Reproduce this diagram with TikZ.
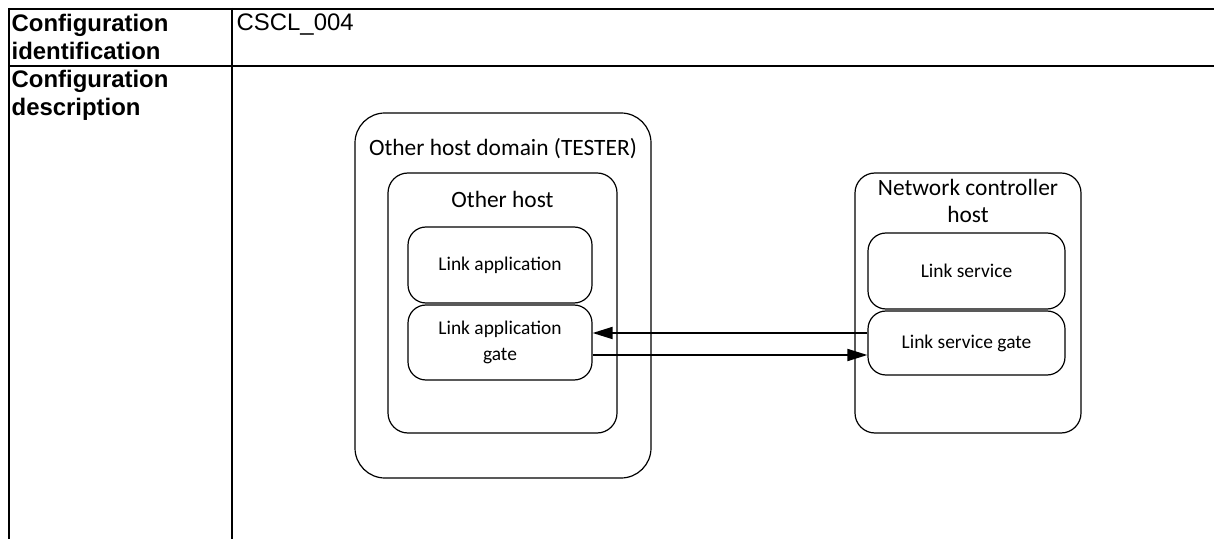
\documentclass[tikz,border=0pt]{standalone}
\usepackage{fontspec}
\setmainfont{Liberation Sans}
\newfontfamily\diagfont{Carlito}
\usetikzlibrary{calc,arrows.meta}

\tikzset{
  rule/.style={line width=2.2bp},
  cell/.style={inner sep=0pt,anchor=north west,align=left,font=\fontsize{24}{28.5}\selectfont},
  box/.style={draw,line width=1.2bp,inner sep=0pt,align=center,font=\diagfont\fontsize{19.5}{26}\selectfont},
  title/.style={inner sep=0pt,anchor=base,align=center,font=\diagfont\fontsize{23.5}{28}\selectfont},
  conn/.style={line width=1.8bp,-{Triangle[length=20bp,width=12bp]}}
}

\begin{document}
\begin{tikzpicture}[x=1bp,y=-1bp]
                      \useasboundingbox (0,0) rectangle (1214,539);
                      % table
                      \draw[rule] (8,9) -- (1214,9);
                      \draw[rule] (8,66) -- (1214,66);
                      \draw[rule] (9,8) -- (9,539);
                      \draw[rule] (232,8) -- (232,539);
                      \node[cell](idk)at(11.5,14){\bfseries Configuration\\\bfseries identification};
                      \node[cell](idv)at(236.5,14){CSCL\_004};
                      \node[cell](desck)at(11.5,70){\bfseries Configuration\\\bfseries description};
                      % other host domain
                      \node[box,rounded corners=30bp,minimum width=296bp,minimum height=365bp](dom)at(503,295.5){};
                      \node[title](domt)at(503,156){Other host domain (TESTER)};
                      \node[box,rounded corners=20bp,minimum width=229bp,minimum height=260bp](ohost)at(502.5,303){};
                      \node[title](ohostt)at(502.5,208){Other host};
                      \node[box,rounded corners=18bp,minimum width=184bp,minimum height=76bp](lapp)at(500,265){Link application};
                      \node[box,rounded corners=18bp,minimum width=184bp,minimum height=75bp](lgate)at(500,342.5){Link application\\gate};
                      % network controller host
                      \node[box,rounded corners=20bp,minimum width=226bp,minimum height=260bp](nch)at(968,303){};
                      \node[title](ncht)at(968,223){Network controller\\host};
                      \node[box,rounded corners=18bp,minimum width=197bp,minimum height=76bp](lsvc)at(966.5,271){Link service};
                      \node[box,rounded corners=18bp,minimum width=197bp,minimum height=64bp](lsgate)at(966.5,343){Link service gate};
                      % connectors
                      \draw[conn] ($(lsgate.west)+(0,-10)$) coordinate (up) -- (up -| lgate.east);
                      \draw[conn] ($(lgate.east)+(0,12.5)$) coordinate (dn) -- (dn -| lsgate.west);
                  \end{tikzpicture}
\end{document}
